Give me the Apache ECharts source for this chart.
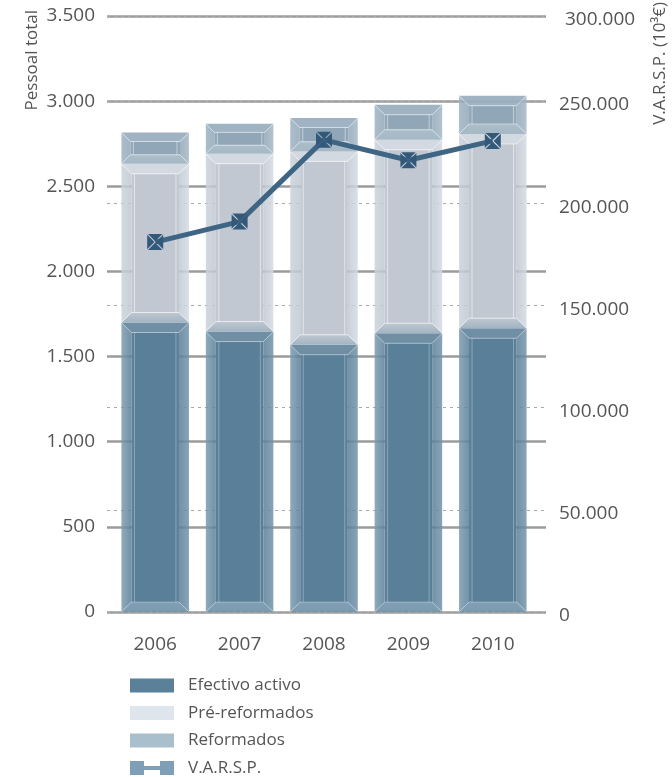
<!DOCTYPE html>
<html>
<head>
<meta charset="utf-8">
<script src="https://cdn.jsdelivr.net/npm/echarts@6/dist/echarts.min.js"></script>
<style>
  html, body { margin: 0; padding: 0; background: #fff; }
  #chart { width: 672px; height: 777px; }
</style>
</head>
<body>
<div id="chart"></div>
<script>
// Staff totals per year (stacked) and V.A.R.S.P. on the secondary axis
const years = ['2006', '2007', '2008', '2009', '2010'];
const efectivoActivo = [1700, 1647, 1569, 1637, 1667];
const preReformados = [932, 1044, 1136, 1136, 1140];
const reformados = [184, 176, 196, 206, 225];
const varsp = [181000, 191000, 231000, 221000, 230500];

const leftTickLabels = ['0', '500', '1.000', '1.500', '2.000', '2.500', '3.000', '3.500'];
const rightTickLabels = ['0', '50.000', '100.000', '150.000', '200.000', '250.000', '300.000'];

const FONT = 'Open Sans';
const TEXT = '#555555';

// stacked ranges [category, low, high] for the custom bevelled bars
function stackRanges(layers) {
  const out = layers.map(() => []);
  years.forEach((_, i) => {
    let base = 0;
    layers.forEach((arr, k) => {
      out[k].push([i, base, base + arr[i]]);
      base += arr[i];
    });
  });
  return out;
}
const ranges = stackRanges([efectivoActivo, preReformados, reformados]);

const palettes = {
  eff: { center: '#5a7f98', top: '#6889a0', bottom: ['#7b9ab0', '#7495ab'], left: '#7b9bb0', right: '#7393a9', edge: 'rgba(255,255,255,0.3)' },
  pre: { center: '#c1c8d2', top: '#d1d7df', bottom: ['#bcc4ce', '#9db0bf'], left: '#cbd2da', right: '#d4dbe3', edge: 'rgba(255,255,255,0.55)' },
  ref: { center: '#91a7b8', top: '#9bafbf', bottom: ['#a8b9c6', '#a1b4c2'], left: '#9db2c2', right: '#a5b8c6', edge: 'rgba(255,255,255,0.45)' }
};

function bevelRenderer(pal) {
  return function (params, api) {
    const xi = api.value(0);
    const pLo = api.coord([xi, api.value(1)]);
    const pHi = api.coord([xi, api.value(2)]);
    const w = api.size([1, 0])[0] * 0.8;
    const x0 = pLo[0] - w / 2, x1 = x0 + w;
    const y0 = pHi[1], y1 = pLo[1];
    const h = y1 - y0;
    const b = Math.min(10, h / 3.5, w / 4);
    const ix0 = x0 + b, ix1 = x1 - b, iy0 = y0 + b, iy1 = y1 - b;
    const poly = (pts, fill, opacity) => ({
      type: 'polygon', shape: { points: pts },
      style: { fill: fill, opacity: opacity == null ? 1 : opacity }
    });
    const grad = (c0, c1, horiz) => new echarts.graphic.LinearGradient(0, 0, horiz ? 1 : 0, horiz ? 0 : 1, [
      { offset: 0, color: c0 }, { offset: 1, color: c1 }
    ]);
    const edge = pal.edge;
    const ln = (ax, ay, bx, by) => ({
      type: 'line', shape: { x1: ax, y1: ay, x2: bx, y2: by },
      style: { stroke: edge, lineWidth: 1 }
    });
    return {
      type: 'group',
      children: [
        { type: 'rect', shape: { x: ix0, y: iy0, width: ix1 - ix0, height: iy1 - iy0 }, style: { fill: pal.center } },
        poly([[x0, y0], [x1, y0], [ix1, iy0], [ix0, iy0]], pal.top, 0.95),
        poly([[ix0, iy1], [ix1, iy1], [x1, y1], [x0, y1]], grad(pal.bottom[0], pal.bottom[1], false), 0.95),
        poly([[x0, y0], [ix0, iy0], [ix0, iy1], [x0, y1]], grad(pal.left, pal.center, true), 0.85),
        poly([[ix1, iy0], [x1, y0], [x1, y1], [ix1, iy1]], grad(pal.center, pal.right, true), 0.85),
        ln(x0, y0, ix0, iy0), ln(x1, y0, ix1, iy0), ln(x0, y1, ix0, iy1), ln(x1, y1, ix1, iy1),
        ln(ix0, iy0, ix1, iy0), ln(ix0, iy1, ix1, iy1),
        ln(ix0 + 3, iy0, ix0 + 3, iy1), ln(ix1 - 3, iy0, ix1 - 3, iy1)
      ]
    };
  };
}

function bevelSeries(name, data, pal, legendColor) {
  return {
    type: 'custom', name: name, xAxisIndex: 1, yAxisIndex: 2,
    data: data, encode: { x: 0, y: [1, 2] },
    itemStyle: { color: legendColor },
    renderItem: bevelRenderer(pal), z: 2
  };
}

// square marker split along its diagonals
const markerPath = 'path://M0.8,0L15.2,0L8,7.2Z M16,0.8L16,15.2L8.8,8Z M15.2,16L0.8,16L8,8.8Z M0,15.2L0,0.8L7.2,8Z';
const legendLinePath = 'path://M0,0L14,0L14,14L0,14Z M14,5L30,5L30,9L14,9Z M30,0L44,0L44,14L30,14Z';

const gridTop = 16, gridBottom = 165;
const rightMax = 291600;

const option = {
  animation: false,
  textStyle: { fontFamily: FONT },
  grid: [
    { left: 107, right: 126, top: gridTop, bottom: gridBottom },
    { left: 113, right: 137, top: gridTop, bottom: gridBottom }
  ],
  xAxis: [
    { type: 'category', gridIndex: 0, data: years, show: false },
    {
      type: 'category', gridIndex: 1, data: years,
      axisLine: { show: false }, axisTick: { show: false },
      axisLabel: { color: TEXT, fontSize: 19, fontFamily: FONT, margin: 23 }
    }
  ],
  yAxis: [
    {
      type: 'value', gridIndex: 0, position: 'left', min: 0, max: 3500, interval: 500,
      axisLine: { show: false }, axisTick: { show: false },
      splitLine: { show: true, lineStyle: { color: '#9b9b9b', width: 2.5 } },
      axisLabel: {
        color: TEXT, fontSize: 19, fontFamily: FONT, margin: 12, padding: [8, 0, 0, 0],
        formatter: (v, i) => leftTickLabels[i]
      }
    },
    {
      type: 'value', gridIndex: 0, position: 'right', min: 0, max: rightMax, interval: 50000,
      axisLine: { show: false }, axisTick: { show: false },
      splitLine: { show: true, lineStyle: { color: '#a8a8a8', width: 1, type: [3, 4] } },
      axisLabel: {
        color: TEXT, fontSize: 19, fontFamily: FONT, margin: 13, padding: [8, 0, 0, 0],
        showMaxLabel: true,
        formatter: (v, i) => i === rightTickLabels.length - 1 ? '{t|' + rightTickLabels[i] + '}' : rightTickLabels[i],
        rich: { t: { color: TEXT, fontSize: 19, fontFamily: FONT, padding: [0, 0, 0, 6] } }
      }
    },
    { type: 'value', gridIndex: 1, min: 0, max: 3500, interval: 500, show: false, splitLine: { show: false } },
    { type: 'value', gridIndex: 1, min: 0, max: rightMax, interval: 50000, show: false, splitLine: { show: false } }
  ],
  legend: {
    orient: 'vertical', left: 130, top: 677, height: 120, padding: 0,
    itemWidth: 44, itemHeight: 14, itemGap: 10.5,
    textStyle: { color: TEXT, fontSize: 17, fontFamily: FONT, padding: [0, 0, 0, 9] },
    data: [
      { name: 'Efectivo activo', icon: 'rect' },
      { name: 'Pré-reformados', icon: 'rect' },
      { name: 'Reformados', icon: 'rect' },
      { name: 'V.A.R.S.P.', icon: legendLinePath, itemStyle: { color: '#7f9fb6' } }
    ]
  },
  graphic: [
    {
      type: 'text', x: 32, y: 10, rotation: Math.PI / 2,
      style: { text: 'Pessoal total', fill: TEXT, fontSize: 17, fontFamily: FONT, align: 'right', verticalAlign: 'middle' }
    },
    {
      type: 'text', x: 660, y: 2, rotation: Math.PI / 2,
      style: { text: 'V.A.R.S.P. (10³€)', fill: TEXT, fontSize: 17, fontFamily: FONT, align: 'right', verticalAlign: 'middle' }
    }
  ],
  series: [
    bevelSeries('Efectivo activo', ranges[0], palettes.eff, '#5b8099'),
    bevelSeries('Pré-reformados', ranges[1], palettes.pre, '#dfe5ec'),
    bevelSeries('Reformados', ranges[2], palettes.ref, '#a9bfcc'),
    {
      type: 'line', name: 'V.A.R.S.P.', xAxisIndex: 1, yAxisIndex: 3,
      data: varsp, z: 5,
      symbol: markerPath, symbolSize: 16,
      lineStyle: { color: '#3f6584', width: 5 },
      itemStyle: { color: '#33597a' }
    }
  ]
};

const chart = echarts.init(document.getElementById('chart'), null, { renderer: 'canvas' });
chart.setOption(option);
</script>
</body>
</html>
